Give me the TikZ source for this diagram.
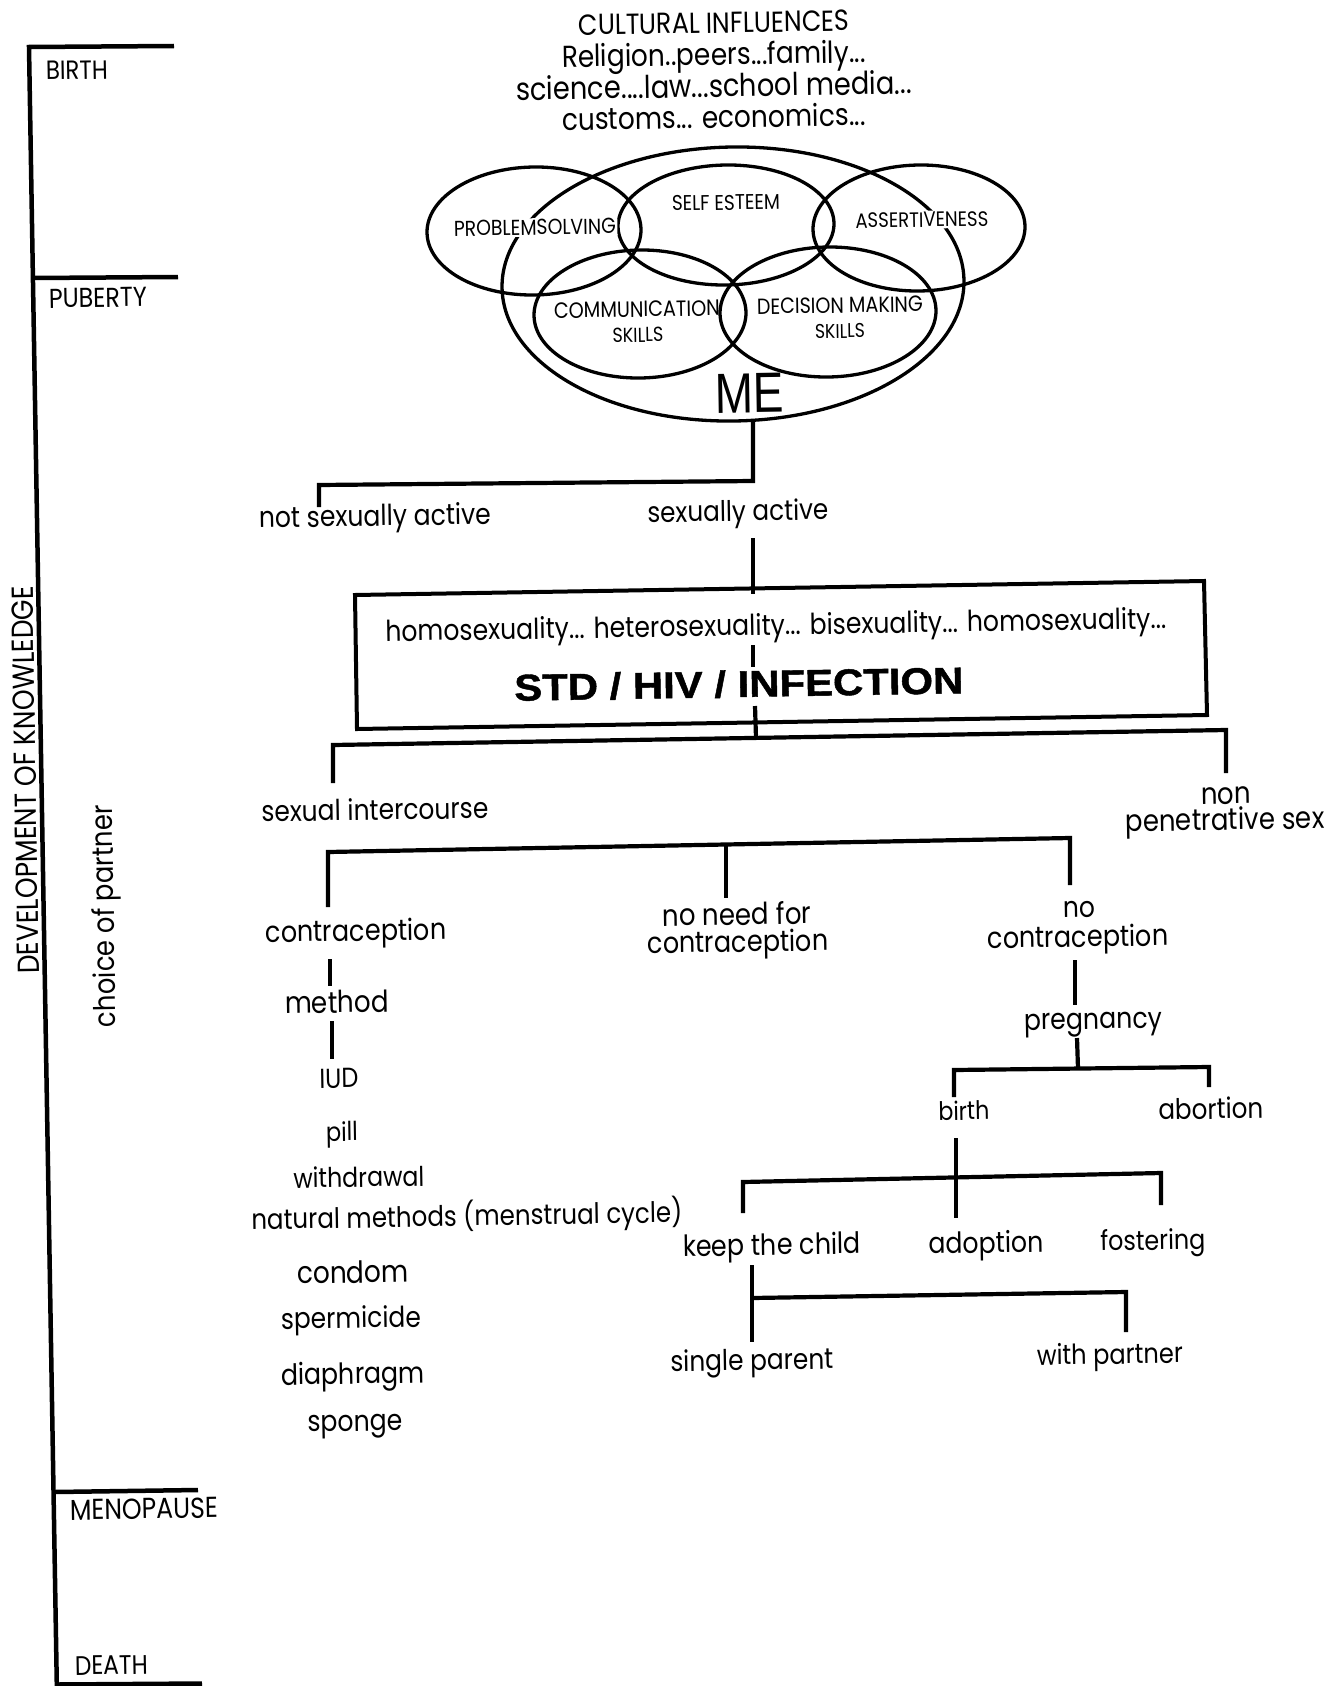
\documentclass[tikz,border=0pt]{standalone}
\usepackage{fontspec}
\setmainfont{Poppins}
\newfontfamily\lsans{Liberation Sans}[BoldFeatures={FakeBold=1.2}]
\usepackage{graphicx}
\usetikzlibrary{shapes.geometric}
\newcommand\agfont{\rmfamily\fontsize{20}{24}\selectfont}
\newcommand\hvbold{\lsans\bfseries\fontsize{20}{24}\selectfont}
\newcommand\hvmed{\lsans\fontsize{20}{24}\selectfont}
\newcommand\fitw[2]{\resizebox{#1pt}{!}{\scalebox{1}[1.15]{#2}}}
\newcommand\fitwh[3]{\resizebox{#1pt}{#2pt}{#3}}
\begin{document}
\begin{tikzpicture}[x=1pt,y=-1pt,
  conn/.style={line width=4.2pt},
  tline/.style={line width=4.5pt},
  boxline/.style={line width=4pt},
  venn/.style={draw, ellipse, line width=3.3pt, inner sep=0pt, rotate=0.95},
  lbl/.style={inner sep=0pt, outer sep=0pt, anchor=base, font=\agfont, rotate=0.95},
  lblw/.style={lbl, anchor=base west},
  mask/.style={fill=white, inner sep=1.5pt}]
\useasboundingbox (0,0) rectangle (1341,1686);
\fill[white] (0,0) rectangle (1341,1686);

% ---------- time line ----------
\coordinate (tl0) at (174,46);
\coordinate (tl1) at (29,47);
\coordinate (tl2) at (56.8,1684.5);
\coordinate (tl3) at (202,1683.5);
\draw[tline] (tl0) -- (tl1) -- (tl2) -- (tl3);
\coordinate (pb0) at (33,278);   \coordinate (pb1) at (178,277);
\draw[tline] (pb0) -- (pb1);
\coordinate (mp0) at (54.3,1492); \coordinate (mp1) at (198,1490);
\draw[tline] (mp0) -- (mp1);

\node[lblw] (birth) at (46,80) {\fitw{62}{BIRTH}};
\node[lblw] (puberty) at (49,308) {\fitw{98}{PUBERTY}};
\node[lblw] (menopause) at (70,1520) {\fitw{148}{MENOPAUSE}};
\node[lblw] (death) at (75,1675) {\fitw{73}{DEATH}};
\node[lbl, rotate=90] (devk) at (36,780) {\fitw{388}{DEVELOPMENT OF KNOWLEDGE}};
\node[lbl, rotate=90] (choice) at (114,916) {\fitw{222}{choice of partner}};

% ---------- cultural influences ----------
\node[lbl] (cult) at (714,33) {\fitw{271}{CULTURAL INFLUENCES}};
\node[lbl] (rel) at (714,65) {\fitw{304}{Religion..peers...family...}};
\node[lbl] (sci) at (714,97) {\fitw{396}{science....law...school media...}};
\node[lbl] (cust) at (714,128) {\fitw{304}{customs... economics...}};

% ---------- venn ----------
\node[venn, minimum width=462pt, minimum height=274pt] (bigme) at (733,284) {};
\node[venn, minimum width=214pt, minimum height=128pt] (eps) at (534,231) {};
\node[venn, minimum width=216pt, minimum height=120pt] (ese) at (726,225) {};
\node[venn, minimum width=212pt, minimum height=126pt] (eas) at (919,228) {};
\node[venn, minimum width=212pt, minimum height=128pt] (ecm) at (640,314) {};
\node[venn, minimum width=216pt, minimum height=130pt] (edm) at (828,312) {};

\node[lbl, mask] (ps) at (535,235) {\fitw{162}{PROBLEMSOLVING}};
\node[lbl] (se) at (726,210) {\fitw{108}{SELF ESTEEM}};
\node[lbl, mask] (as) at (922,227) {\fitw{133}{ASSERTIVENESS}};
\node[lbl] (cm1) at (637,317) {\fitw{166}{COMMUNICATION}};
\node[lbl] (cm2) at (638,342) {\fitw{51}{SKILLS}};
\node[lbl] (dm1) at (840,313) {\fitw{166}{DECISION MAKING}};
\node[lbl] (dm2) at (840,338) {\fitw{50}{SKILLS}};
\node[lbl, font=\hvmed] (me) at (750,413) {\fitwh{69}{39}{ME}};

% ---------- first split ----------
\coordinate (me0) at (753,421);
\coordinate (me1) at (753,481);
\coordinate (nsa0) at (319,485);
\coordinate (nsa1) at (319,507);
\draw[conn] (me0) -- (me1) -- (nsa0) -- (nsa1);
\node[lbl] (nsa) at (375,526) {\fitw{232}{not sexually active}};
\node[lbl] (sa) at (738,521) {\fitw{181}{sexually active}};

% ---------- box ----------
\coordinate (bx1) at (355,595);
\coordinate (bx2) at (1204,581);
\coordinate (bx3) at (1207,715);
\coordinate (bx4) at (357,729);
\draw[boxline] (bx1) -- (bx2) -- (bx3) -- (bx4) -- cycle;
\coordinate (sa0) at (753,538);
\coordinate (sa1) at (753,594);
\draw[conn] (sa0) -- (sa1);
\node[lbl] (homo) at (776,635) {\fitw{781}{homosexuality... heterosexuality... bisexuality... homosexuality...}};
\coordinate (hm0) at (753,645);
\coordinate (hm1) at (753,667);
\draw[conn] (hm0) -- (hm1);
\node[lbl, font=\hvbold] (std) at (739,697) {\fitwh{449}{27}{STD / HIV / INFECTION}};

% ---------- second split ----------
\coordinate (st0) at (755,706);
\coordinate (st1) at (756,738);
\draw[conn] (st0) -- (st1);
\coordinate (s2a) at (333,783);
\coordinate (s2b) at (333,745);
\coordinate (s2c) at (1226,730);
\coordinate (s2d) at (1226,773);
\draw[conn] (s2a) -- (s2b) -- (s2c) -- (s2d);
\node[lbl] (si) at (375,820) {\fitw{227}{sexual intercourse}};
\node[lbl] (non) at (1226,804) {\fitw{50}{non}};
\node[lbl] (pen) at (1225,830) {\fitw{199}{penetrative sex}};

% ---------- third split ----------
\coordinate (s3a) at (328,907);
\coordinate (s3b) at (328,852);
\coordinate (s3c) at (1070,838);
\coordinate (s3d) at (1070,885);
\draw[conn] (s3a) -- (s3b) -- (s3c) -- (s3d);
\coordinate (s3m0) at (726,844.5);
\coordinate (s3m1) at (726,898);
\draw[conn] (s3m0) -- (s3m1);
\node[lbl] (contra) at (356,941) {\fitw{181}{contraception}};
\node[lbl] (nn1) at (737,925) {\fitw{149}{no need for}};
\node[lbl] (nn2) at (738,952) {\fitw{181}{contraception}};
\node[lbl] (nc1) at (1079,917) {\fitw{32}{no}};
\node[lbl] (nc2) at (1078,947) {\fitw{181}{contraception}};

% ---------- methods ----------
\coordinate (ct0) at (330,959);
\coordinate (ct1) at (330,986);
\draw[conn] (ct0) -- (ct1);
\node[lbl] (method) at (337,1013) {\fitw{104}{method}};
\coordinate (mt0) at (332,1021);
\coordinate (mt1) at (332,1059);
\draw[conn] (mt0) -- (mt1);
\node[lbl] (iud) at (339,1088) {\fitw{39}{IUD}};
\node[lbl] (pill) at (342,1141) {\fitw{32}{pill}};
\node[lbl] (wd) at (359,1187) {\fitw{131}{withdrawal}};
\node[lbl] (nat) at (467,1226) {\fitw{431}{natural methods (menstrual cycle)}};
\node[lbl] (condom) at (353,1283) {\fitw{112}{condom}};
\node[lbl] (sperm) at (351,1328) {\fitw{140}{spermicide}};
\node[lbl] (diaph) at (353,1384) {\fitw{144}{diaphragm}};
\node[lbl] (sponge) at (355,1431) {\fitw{95}{sponge}};

% ---------- pregnancy ----------
\coordinate (nc0) at (1075,960);
\coordinate (nc1x) at (1075,1005);
\draw[conn] (nc0) -- (nc1x);
\node[lbl] (preg) at (1093,1029) {\fitw{138}{pregnancy}};
\coordinate (pg0) at (1077,1038);
\coordinate (pg1) at (1078,1068.5);
\draw[conn] (pg0) -- (pg1);
\coordinate (s4a) at (954,1097);
\coordinate (s4b) at (954,1070);
\coordinate (s4c) at (1209,1067);
\coordinate (s4d) at (1209,1087);
\draw[conn] (s4a) -- (s4b) -- (s4c) -- (s4d);
\node[lbl] (birthn) at (964,1120) {\fitw{51}{birth}};
\node[lbl] (abort) at (1211,1119) {\fitw{105}{abortion}};

% ---------- birth ----------
\coordinate (bt0) at (956,1138);
\coordinate (bt1) at (956,1218);
\draw[conn] (bt0) -- (bt1);
\coordinate (s5a) at (743,1213);
\coordinate (s5b) at (743,1182);
\coordinate (s5c) at (1161,1173);
\coordinate (s5d) at (1161,1205);
\draw[conn] (s5a) -- (s5b) -- (s5c) -- (s5d);
\node[lbl] (keep) at (772,1255) {\fitw{178}{keep the child}};
\node[lbl] (adopt) at (986,1253) {\fitw{115}{adoption}};
\node[lbl] (foster) at (1153,1250) {\fitw{105}{fostering}};

% ---------- keep the child ----------
\coordinate (kc0) at (752,1265);
\coordinate (kc1) at (752,1342);
\draw[conn] (kc0) -- (kc1);
\coordinate (s6a) at (752,1298);
\coordinate (s6b) at (1126,1292);
\coordinate (s6c) at (1126,1332);
\draw[conn] (s6a) -- (s6b) -- (s6c);
\node[lbl] (single) at (752,1370) {\fitw{163}{single parent}};
\node[lbl] (withp) at (1110,1364) {\fitw{146}{with partner}};
\end{tikzpicture}
\end{document}
